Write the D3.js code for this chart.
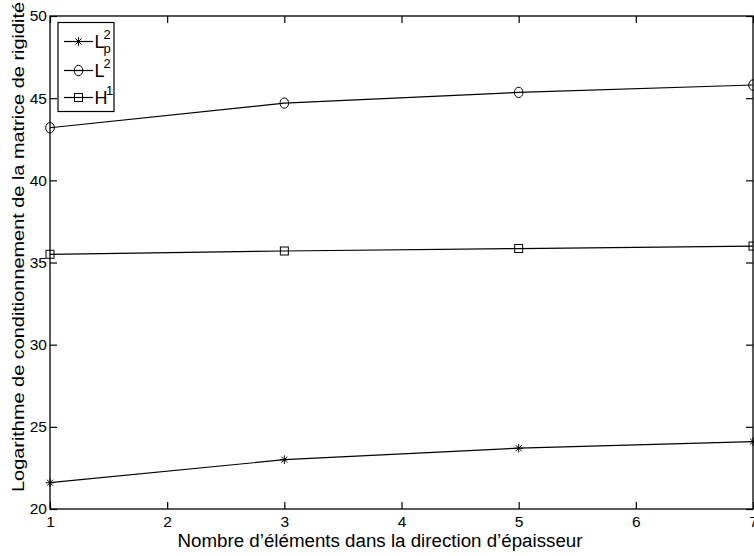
<!DOCTYPE html>
<html><head><meta charset="utf-8">
<script src="https://cdn.jsdelivr.net/npm/d3@7/dist/d3.min.js"></script>
<style>body{margin:0;background:#fff}svg{display:block}text{font-family:"Liberation Sans Narrow","Liberation Sans",Arial,sans-serif}</style>
</head><body>
<svg id="c" width="754" height="556"></svg>
<script>
const xValues = [1, 3, 5, 7];
const seriesLp2 = [21.6, 23.0, 23.7, 24.1];
const seriesL2 = [43.2, 44.7, 45.35, 45.8];
const seriesH1 = [35.5, 35.7, 35.85, 36.0];
const xTicks = [1, 2, 3, 4, 5, 6, 7];
const yTicks = [20, 25, 30, 35, 40, 45, 50];

const FONT = "'Liberation Sans Narrow', 'Liberation Sans', Arial, sans-serif";
const svg = d3.select("#c");
const L = 50, R = 753, T = 16, B = 509;
const x = d3.scaleLinear().domain([1, 7]).range([L, R]);
const y = d3.scaleLinear().domain([20, 50]).range([B, T]);

const g = svg.append("g");
g.append("rect").attr("x", L).attr("y", T).attr("width", R - L).attr("height", B - T)
  .attr("fill", "none").attr("stroke", "#000").attr("stroke-width", 1.3);

const tl = 7;
const axBottom = g.append("g").attr("transform", `translate(0,${B})`)
  .call(d3.axisBottom(x).tickValues(xTicks).tickSize(-tl).tickPadding(7).tickFormat(d3.format("d")));
const axTop = g.append("g").attr("transform", `translate(0,${T})`)
  .call(d3.axisTop(x).tickValues(xTicks).tickSize(-tl).tickFormat(""));
const axLeft = g.append("g").attr("transform", `translate(${L},0)`)
  .call(d3.axisLeft(y).tickValues(yTicks).tickSize(-tl).tickPadding(3).tickFormat(d3.format("d")));
const axRight = g.append("g").attr("transform", `translate(${R},0)`)
  .call(d3.axisRight(y).tickValues(yTicks).tickSize(-tl).tickFormat(""));
[axBottom, axTop, axLeft, axRight].forEach(a => {
  a.select(".domain").remove();
  a.selectAll("line").attr("stroke", "#000").attr("stroke-width", 1.2);
  a.selectAll("text").attr("font-size", 15.5).attr("fill", "#000").attr("font-family", FONT);
});

const line = d3.line().x((d, i) => x(xValues[i])).y(d => y(d));
const series = [
  { vals: seriesLp2, marker: "star" },
  { vals: seriesL2, marker: "circle" },
  { vals: seriesH1, marker: "square" }
];

function drawMarker(sel, type, cx, cy) {
  const m = sel.append("g").attr("transform", `translate(${cx},${cy})`)
    .attr("fill", "none").attr("stroke", "#000").attr("stroke-width", 1);
  if (type === "circle") m.append("ellipse").attr("rx", 4.3).attr("ry", 5.2);
  else if (type === "square") m.append("rect").attr("x", -4).attr("y", -4).attr("width", 8).attr("height", 8);
  else {
    const s = 4.3;
    m.append("path").attr("d", `M${-s},0H${s}M0,${-s}V${s}M${-s*0.7},${-s*0.7}L${s*0.7},${s*0.7}M${-s*0.7},${s*0.7}L${s*0.7},${-s*0.7}`);
  }
}

series.forEach(s => {
  g.append("path").datum(s.vals).attr("d", line).attr("fill", "none")
    .attr("stroke", "#000").attr("stroke-width", 1.2);
  s.vals.forEach((v, i) => drawMarker(g, s.marker, x(xValues[i]), y(v)));
});

const lg = g.append("g");
lg.append("rect").attr("x", 58).attr("y", 22.5).attr("width", 56).attr("height", 89)
  .attr("fill", "#fff").attr("stroke", "#000").attr("stroke-width", 1.2);
const entries = [
  { marker: "star", base: "L", sup: "2", sub: "p", yy: 41.5, supX: 103.5 },
  { marker: "circle", base: "L", sup: "2", yy: 70.5, supX: 103.5 },
  { marker: "square", base: "H", sup: "1", yy: 97.5, supX: 106 }
];
entries.forEach(e => {
  lg.append("line").attr("x1", 64).attr("x2", 93).attr("y1", e.yy).attr("y2", e.yy)
    .attr("stroke", "#000").attr("stroke-width", 1.2);
  drawMarker(lg, e.marker, 78.5, e.yy);
  lg.append("text").attr("x", 94.5).attr("y", e.yy + 6.5).attr("font-size", 18).attr("fill", "#000").text(e.base);
  lg.append("text").attr("x", e.supX).attr("y", e.yy - 3).attr("font-size", 13).attr("fill", "#000").text(e.sup);
  if (e.sub) {
    lg.append("text").attr("x", 103.5).attr("y", e.yy + 11).attr("font-size", 13).attr("fill", "#000").text(e.sub);
  }
});

g.append("text").attr("x", 380).attr("y", 547).attr("text-anchor", "middle")
  .attr("font-size", 18).attr("fill", "#000")
  .attr("textLength", 405).attr("lengthAdjust", "spacingAndGlyphs")
  .text("Nombre d\u2019éléments dans la direction d\u2019épaisseur");
g.append("text").attr("transform", "translate(24,247) rotate(-90)").attr("text-anchor", "middle")
  .attr("font-size", 17).attr("fill", "#000")
  .attr("textLength", 490).attr("lengthAdjust", "spacingAndGlyphs")
  .text("Logarithme de conditionnement de la matrice de rigidité");
</script>
</body></html>
